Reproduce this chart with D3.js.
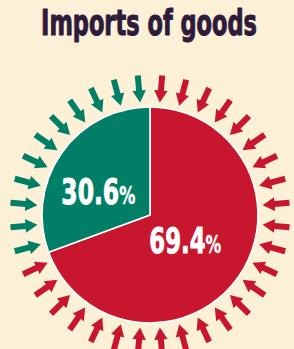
<!DOCTYPE html>
<html>
<head>
<meta charset="utf-8">
<script src="https://cdn.jsdelivr.net/npm/d3@7"></script>
<style>
  html, body { margin: 0; padding: 0; background: #fcf1d7; }
  svg { display: block; }
</style>
</head>
<body>
<svg id="chart" width="294" height="349"></svg>
<script>
// ---- data ----
const title = "Imports of goods";
const categories = ["Other", "Share"];
const values = [69.4, 30.6];
const labels = ["69.4", "30.6"];
const colors = ["#c8162f", "#007e66"];
const arrowCount = 36;

const W = 294, H = 349;
const cx = 150, cy = 215, R = 108;
const FONT = "'Liberation Sans Narrow', 'DejaVu Sans Condensed', 'Liberation Sans', sans-serif";

const svg = d3.select("#chart");
svg.append("rect").attr("width", W).attr("height", H).attr("fill", "#fcf1d7");

// fit text to a target width by horizontal scale
function fitText(sel, targetW, x, y) {
  const w = sel.node().getComputedTextLength();
  const s = targetW / w;
  sel.attr("transform", `translate(${x},${y}) scale(${s},1)`);
}

// title
const t = svg.append("text")
  .attr("text-anchor", "middle")
  .attr("font-family", FONT)
  .attr("font-weight", "bold")
  .attr("font-size", 36)
  .attr("fill", "#2e1b3b")
  .attr("stroke", "#2e1b3b")
  .attr("stroke-width", 1)
  .attr("stroke-linejoin", "round")
  .text(title);
fitText(t, 216, 149, 35);

const g = svg.append("g").attr("transform", `translate(${cx},${cy})`);

const pie = d3.pie().sort(null).value(d => d)(values);
const arc = d3.arc().innerRadius(0).outerRadius(R);

// arrows around the pie
const step = 360 / arrowCount;
const angles = d3.range(arrowCount).map(i => step / 2 + i * step);
const rad = d => d * Math.PI / 180;
function sliceIndex(a) {
  const r = rad(a);
  return pie.findIndex(p => r >= p.startAngle && r < p.endAngle);
}
const tipR = R + 5, headLen = 12, tailR = R + 32, headHalf = 6.8, shaftHalf = 3;
const arrowPath = `M${tipR},0 L${tipR + headLen},${-headHalf} L${tipR + headLen},${-shaftHalf} L${tailR},${-shaftHalf} L${tailR},${shaftHalf} L${tipR + headLen},${shaftHalf} L${tipR + headLen},${headHalf} Z`;

g.selectAll("path.arrow")
  .data(angles)
  .join("path")
  .attr("class", "arrow")
  .attr("d", arrowPath)
  .attr("transform", d => `rotate(${d - 90})`)
  .attr("fill", d => colors[sliceIndex(d)]);

// slices
g.selectAll("path.slice")
  .data(pie)
  .join("path")
  .attr("class", "slice")
  .attr("d", arc)
  .attr("fill", (d, i) => colors[i])
  .attr("stroke", "#ffffff")
  .attr("stroke-width", 1.6)
  .attr("stroke-linejoin", "round");

// labels
const labelCfg = [
  { r: 43, da: 0, w: 72 },
  { r: 57, da: -10, w: 74 }
];
pie.forEach((p, i) => {
  const cfg = labelCfg[i];
  const mid = (p.startAngle + p.endAngle) / 2 + rad(cfg.da);
  const lx = Math.sin(mid) * cfg.r;
  const ly = -Math.cos(mid) * cfg.r;
  const txt = g.append("text")
    .attr("text-anchor", "middle")
    .attr("font-family", FONT)
    .attr("font-weight", "bold")
    .attr("fill", "#ffffff")
    .attr("stroke", "#ffffff")
    .attr("stroke-width", 0.9)
    .attr("stroke-linejoin", "round")
    .attr("font-size", 35);
  txt.append("tspan").text(labels[i]);
  txt.append("tspan").attr("font-size", 24).attr("stroke-width", 0.4).text("%");
  fitText(txt, cfg.w, lx, ly + 13);
});
</script>
</body>
</html>
